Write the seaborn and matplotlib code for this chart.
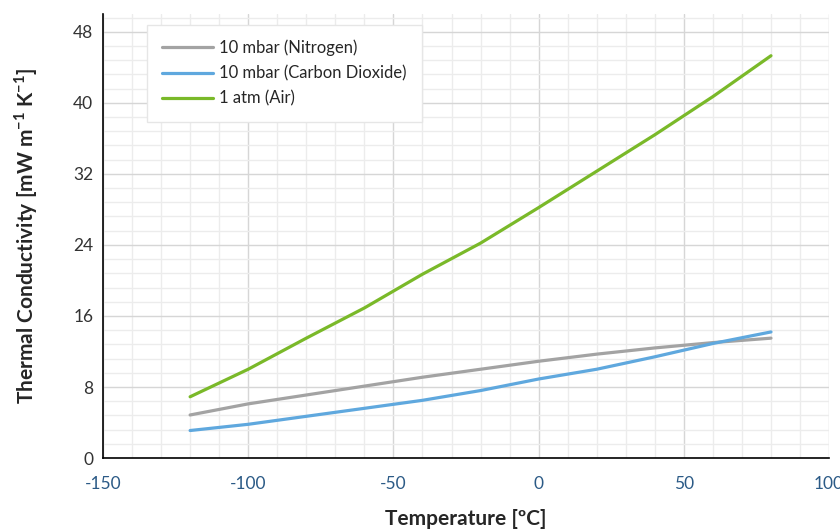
# Thermal conductivity vs temperature at different gas pressures
import seaborn as sns
import matplotlib.pyplot as plt
import pandas as pd
from matplotlib.ticker import MultipleLocator

temps = [-120, -100, -80, -60, -40, -20, 0, 20, 40, 60, 80]
nitrogen = [4.85, 6.1, 7.1, 8.1, 9.1, 10.0, 10.9, 11.7, 12.4, 13.0, 13.5]
co2 = [3.1, 3.8, 4.7, 5.6, 6.5, 7.6, 8.9, 10.0, 11.4, 12.9, 14.2]
air = [6.9, 10.0, 13.5, 16.9, 20.7, 24.2, 28.2, 32.3, 36.4, 40.7, 45.3]
labels = ['10 mbar (Nitrogen)', '10 mbar (Carbon Dioxide)', '1 atm (Air)']
colors = ['#a3a3a3', '#5fa8de', '#7ab929']

df = pd.concat([
    pd.DataFrame({'temp': temps, 'k': nitrogen, 'gas': labels[0]}),
    pd.DataFrame({'temp': temps, 'k': co2, 'gas': labels[1]}),
    pd.DataFrame({'temp': temps, 'k': air, 'gas': labels[2]}),
])

sns.set_style('white')
plt.rcParams['font.family'] = ['Lato', 'DejaVu Sans']
plt.rcParams['axes.unicode_minus'] = False

fig = plt.figure(figsize=(8.4, 5.32), dpi=100)
ax = fig.add_axes([0.1226, 0.139, 0.8644, 0.8347])
sns.lineplot(data=df, x='temp', y='k', hue='gas', palette=colors, linewidth=2.3, ax=ax)

ax.set_xlim(-150, 100)
ax.set_ylim(0, 50)
ax.xaxis.set_major_locator(MultipleLocator(50))
ax.xaxis.set_minor_locator(MultipleLocator(10))
ax.yaxis.set_major_locator(MultipleLocator(8))
ax.yaxis.set_minor_locator(MultipleLocator(1.6))
ax.grid(which='major', color='#d6d6d6', linewidth=1.0)
ax.grid(which='minor', color='#ececec', linewidth=1.0)
ax.set_axisbelow(True)

for s in ['top', 'right']:
    ax.spines[s].set_visible(False)
for s in ['left', 'bottom']:
    ax.spines[s].set_color('black')
    ax.spines[s].set_linewidth(1.2)

ax.tick_params(axis='both', which='major', direction='out', length=5, width=1, labelsize=12.5)
ax.tick_params(axis='both', which='minor', length=0)
ax.tick_params(axis='x', colors='black', labelcolor='#2b5a86', pad=8)
ax.tick_params(axis='y', colors='black', labelcolor='#333333', pad=2)

ax.set_xlabel('Temperature [ºC]', fontsize=15, fontweight='bold', labelpad=12)
ax.set_ylabel(r'Thermal Conductivity [mW m$^{\mathregular{-1}}$ K$^{\mathregular{-1}}$]',
              fontsize=15, fontweight='bold', labelpad=24)

leg = ax.legend(loc='upper left', bbox_to_anchor=(0.06, 0.976), fontsize=12,
                frameon=True, fancybox=False, handlelength=3.1, borderpad=0.9,
                labelspacing=0.55, handletextpad=0.35, borderaxespad=0)
leg.get_frame().set_edgecolor('#e6e6e6')
leg.get_frame().set_facecolor('white')
leg.get_frame().set_alpha(1)

plt.savefig('out.png', dpi=100)
